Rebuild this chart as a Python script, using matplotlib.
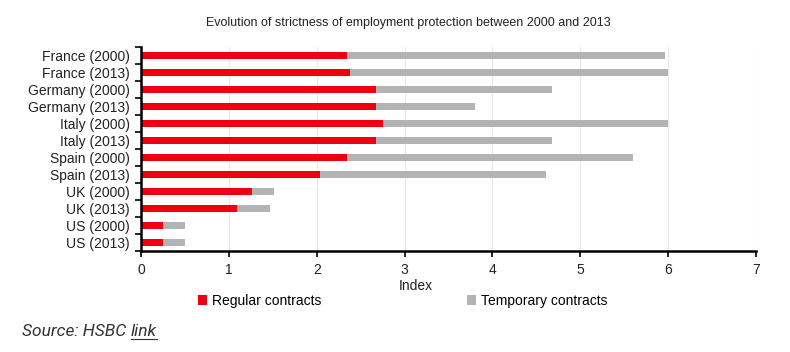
import matplotlib.pyplot as plt
import numpy as np

plt.rcParams['font.family'] = ['Liberation Sans', 'DejaVu Sans']

labels = ["France (2000)", "France (2013)", "Germany (2000)", "Germany (2013)",
          "Italy (2000)", "Italy (2013)", "Spain (2000)", "Spain (2013)",
          "UK (2000)", "UK (2013)", "US (2000)", "US (2013)"]
regular = [2.34, 2.38, 2.67, 2.67, 2.76, 2.67, 2.35, 2.04, 1.26, 1.09, 0.25, 0.25]
temporary = [3.62, 3.62, 2.01, 1.13, 3.24, 2.01, 3.25, 2.57, 0.25, 0.38, 0.25, 0.25]

red = "#ee0010"
grey = "#b3b3b3"

fig = plt.figure(figsize=(7.9, 3.52), dpi=100)
ax = fig.add_axes([141 / 790, 1 - 251 / 352, 615 / 790, 204 / 352])

y = np.arange(len(labels))
ax.barh(y, regular, height=0.42, color=red, label="Regular contracts")
ax.barh(y, temporary, left=regular, height=0.42, color=grey, label="Temporary contracts")

ax.set_xlim(0, 7)
ax.set_ylim(len(labels) - 0.5, -0.5)
ax.set_xticks(range(8))
ax.set_yticks(y)
ax.set_yticklabels(labels, fontsize=10, color="#222222")
ax.set_yticks(np.arange(-0.5, len(labels)), minor=True)
ax.tick_params(axis="y", which="major", length=0, pad=8)
ax.tick_params(axis="y", which="minor", length=4, width=1.2, direction="out")
ax.tick_params(axis="x", length=4, width=1.2, labelsize=10, labelcolor="#222222", pad=5)
ax.grid(axis="x", color="#e8e8e8", linewidth=0.8)
ax.set_axisbelow(True)
for s in ["top", "right"]:
    ax.spines[s].set_visible(False)
ax.spines["left"].set_linewidth(1.8)
ax.spines["bottom"].set_linewidth(1.8)

ax.set_xlabel("Index", fontsize=10, color="#222222", labelpad=1, x=0.447)
ax.set_title("Evolution of strictness of employment protection between 2000 and 2013",
             fontsize=9, color="#222222", pad=15, x=0.435)

ax.legend(loc="upper center", bbox_to_anchor=(0.425, -0.15), ncol=2, frameon=False,
          fontsize=10, handlelength=0.7, handleheight=0.7, handletextpad=0.3,
          columnspacing=10.5)

src = fig.text(0.028, 0.045, "Source: HSBC ", fontsize=12.5, style="italic", color="#333333",
               family=["Roboto", "DejaVu Sans"])
fig.canvas.draw()
bb = src.get_window_extent().transformed(fig.transFigure.inverted())
lnk = fig.text(bb.x1, 0.045, "link", fontsize=12.5, style="italic", color="#333333",
               family=["Roboto", "DejaVu Sans"])
fig.canvas.draw()
lb = lnk.get_window_extent().transformed(fig.transFigure.inverted())
fig.add_artist(plt.Line2D([lb.x0, lb.x1], [0.038, 0.038], color="#333333", linewidth=0.8))

fig.savefig("out.png", dpi=100)
